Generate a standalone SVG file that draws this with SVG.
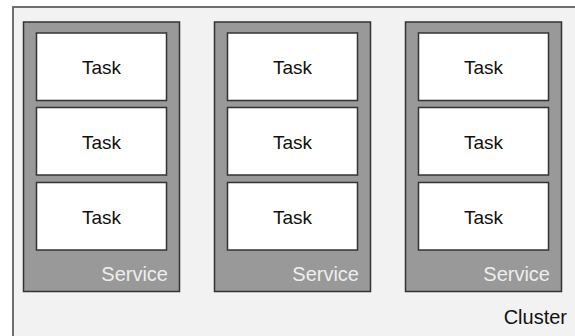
<svg xmlns="http://www.w3.org/2000/svg" width="575" height="336" viewBox="0 0 575 336">
<style>
.cluster{fill:#f2f2f2;stroke:#6e6e6e;stroke-width:2}
.svc{fill:#999999;stroke:#333333;stroke-width:1.5}
.task{fill:#ffffff;stroke:#333333;stroke-width:1.5}
text{font-family:"Liberation Sans",Arial,Helvetica,sans-serif}
.tl{font-size:19px;fill:#111111;text-anchor:middle}
.sl{font-size:20px;fill:#eeeeee;text-anchor:end}
.cl{font-size:20px;fill:#111111;text-anchor:end}
</style>
<rect width="575" height="336" fill="#ffffff"/>
<g id="cluster">
<rect class="cluster" x="13" y="7" width="600" height="400"/>
<text class="cl" x="567" y="324">Cluster</text>
</g>
<g id="service1">
<rect class="svc" x="23.5" y="22" width="156" height="269.5"/>
<text class="sl" x="168" y="281">Service</text>
</g>
<g id="service2">
<rect class="svc" x="214.5" y="22" width="156" height="269.5"/>
<text class="sl" x="359" y="281">Service</text>
</g>
<g id="service3">
<rect class="svc" x="405.5" y="22" width="156" height="269.5"/>
<text class="sl" x="550" y="281">Service</text>
</g>
<g id="task1-1"><rect class="task" x="36.5" y="33" width="130" height="67.5"/><text class="tl" x="101.5" y="74">Task</text></g>
<g id="task1-2"><rect class="task" x="36.5" y="107.5" width="130" height="67.5"/><text class="tl" x="101.5" y="148.5">Task</text></g>
<g id="task1-3"><rect class="task" x="36.5" y="182.5" width="130" height="67.5"/><text class="tl" x="101.5" y="223.5">Task</text></g>
<g id="task2-1"><rect class="task" x="227.5" y="33" width="130" height="67.5"/><text class="tl" x="292.5" y="74">Task</text></g>
<g id="task2-2"><rect class="task" x="227.5" y="107.5" width="130" height="67.5"/><text class="tl" x="292.5" y="148.5">Task</text></g>
<g id="task2-3"><rect class="task" x="227.5" y="182.5" width="130" height="67.5"/><text class="tl" x="292.5" y="223.5">Task</text></g>
<g id="task3-1"><rect class="task" x="418.5" y="33" width="130" height="67.5"/><text class="tl" x="483.5" y="74">Task</text></g>
<g id="task3-2"><rect class="task" x="418.5" y="107.5" width="130" height="67.5"/><text class="tl" x="483.5" y="148.5">Task</text></g>
<g id="task3-3"><rect class="task" x="418.5" y="182.5" width="130" height="67.5"/><text class="tl" x="483.5" y="223.5">Task</text></g>
<g id="connectors"></g>
</svg>
